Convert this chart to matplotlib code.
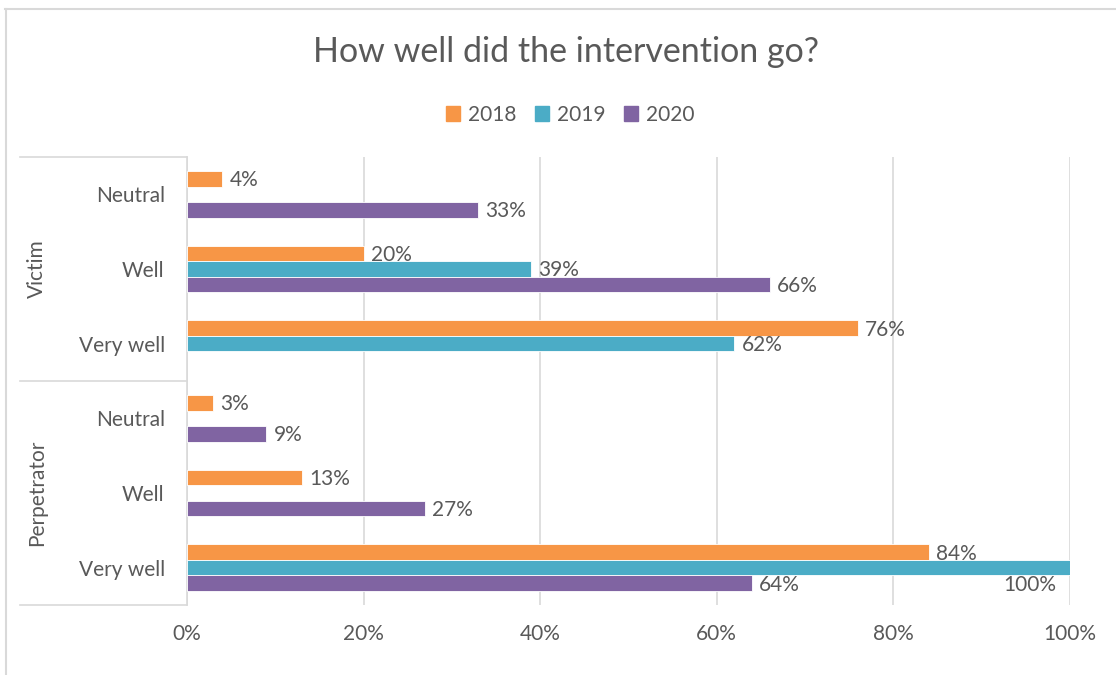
import numpy as np
import matplotlib.pyplot as plt
from matplotlib.lines import Line2D
from matplotlib.patches import Patch

plt.rcParams['font.family'] = ['Lato', 'DejaVu Sans']

groups = ['Victim', 'Perpetrator']
answers = ['Neutral', 'Well', 'Very well']
years = ['2018', '2019', '2020']
colors = ['#f79646', '#4bacc6', '#8064a2']

# rows: Victim Neutral/Well/Very well, Perpetrator Neutral/Well/Very well
v2018 = [4, 20, 76, 3, 13, 84]
v2019 = [np.nan, 39, 62, np.nan, np.nan, 100]
v2020 = [33, 66, np.nan, 9, 27, 64]
series = [v2018, v2019, v2020]

txt = '#595959'
grid = '#d9d9d9'
fs = 15

fig = plt.figure(figsize=(11.16, 6.75), dpi=100)
ax = fig.add_axes([187/1116, 1-605/675, (1070-187)/1116, (605-157)/675])

n = len(groups) * len(answers)
pos = np.arange(n)
h = 0.207
for k, (vals, c, yr) in enumerate(zip(series, colors, years)):
    y = pos + (k - 1) * h
    ax.barh(y, vals, height=h, color=c, edgecolor='white', linewidth=0.6, zorder=3)
    for yy, v in zip(y, vals):
        if np.isnan(v):
            continue
        if v >= 100:
            ax.text(v - 1.5, yy + h/2, f'{v:.0f}%', ha='right', va='top',
                    fontsize=fs, color=txt)
        else:
            ax.text(v + 0.8, yy + 0.02, f'{v:.0f}%', ha='left', va='center',
                    fontsize=fs, color=txt)

ax.set_xlim(0, 100)
ax.set_ylim(n - 0.5, -0.5)
ax.set_xticks(range(0, 101, 20))
ax.set_xticklabels([f'{t}%' for t in range(0, 101, 20)])
ax.set_yticks(pos)
ax.set_yticklabels(answers * len(groups))
ax.tick_params(axis='both', length=0, labelsize=fs, colors=txt)
ax.tick_params(axis='x', pad=14)
ax.tick_params(axis='y', pad=16)
ax.grid(axis='x', color=grid, linewidth=1.2, zorder=0)
for s in ['top', 'right', 'bottom']:
    ax.spines[s].set_visible(False)
ax.spines['left'].set_color(grid)
ax.spines['left'].set_linewidth(1.2)

# group separators and outer labels
trans = ax.get_yaxis_transform()
left = -(187 - 20) / (1070 - 187)
for b in [-0.5, 2.5, 5.5]:
    ax.add_line(Line2D([left, 0], [b, b], transform=trans, color=grid,
                       linewidth=1.2, clip_on=False))
for i, g in enumerate(groups):
    ax.text(left + 0.019, i * 3 + 1, g, transform=trans, rotation=90,
            ha='center', va='center', fontsize=fs, color=txt)

# title and legend
fig.text(566/1116, 1-52/675, 'How well did the intervention go?', ha='center',
         va='center', fontsize=24.5, color=txt)
handles = [Patch(color=c, label=y) for c, y in zip(colors, years)]
fig.legend(handles=handles, loc='center', bbox_to_anchor=(570/1116, 1-115/675),
           ncol=3, frameon=False, fontsize=fs, labelcolor=txt,
           handlelength=0.7, handleheight=0.7, handletextpad=0.35, columnspacing=0.9)

# chart border
fig.add_artist(Line2D([5/1116, 1], [1-9/675, 1-9/675], color=grid, linewidth=1.5))
fig.add_artist(Line2D([6/1116, 6/1116], [0, 1-9/675], color=grid, linewidth=1.5))

fig.savefig('out.png', dpi=100)
